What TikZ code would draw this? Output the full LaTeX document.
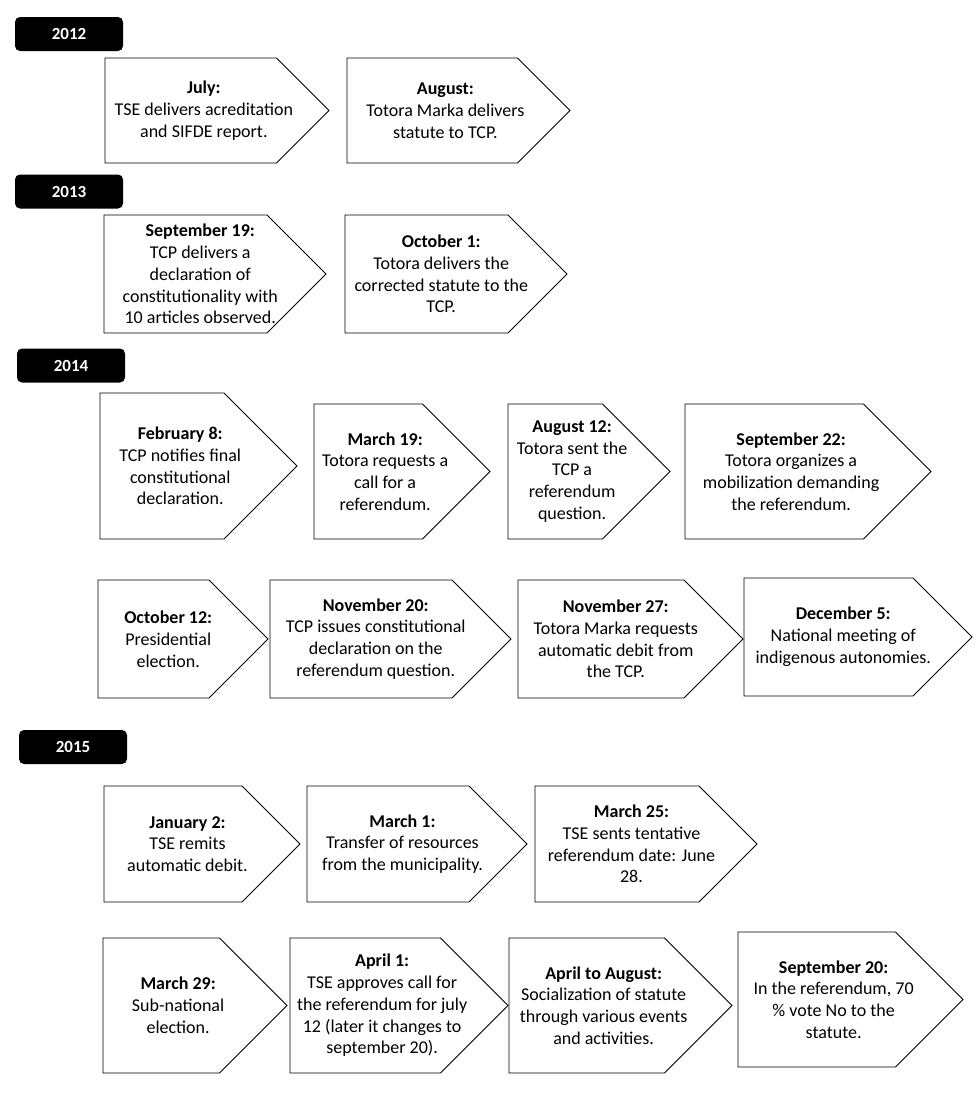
\documentclass[tikz,border=0pt]{standalone}
\usepackage{fontspec}
\setmainfont{Carlito}
\begin{document}
\begin{tikzpicture}[x=1pt,y=-1pt,
  evtline/.style={draw=black,line width=0.9pt,fill=white,line join=miter},
  evttext/.style={align=center,inner sep=0pt,font=\fontsize{18}{21.8}\selectfont},
  yearbox/.style={fill=black,rounded corners=5pt,text=white,minimum width=108pt,minimum height=34pt,inner sep=0pt,font=\fontsize{17}{20}\selectfont\bfseries}]
\useasboundingbox[fill=white] (0,0) rectangle (980,1093);
\newcommand\evt[6]{%
  \pgfmathsetmacro\evtip{(#5-#3)/2}%
  \draw[evtline] (#2,#3) -- ({#4-\evtip},#3) -- (#4,{(#3+#5)/2}) -- ({#4-\evtip},#5) -- (#2,#5) -- cycle;
  \node[evttext] (#1) at ({(#2+#4)/2-\evtip/4},{(#3+#5)/2}) {#6};}
% years
\node[yearbox] (y2012) at (69,34) {2012};
\node[yearbox] (y2013) at (69,191.5) {2013};
\node[yearbox] (y2014) at (71,365.5) {2014};
\node[yearbox] (y2015) at (73,747) {2015};
% 2012
\evt{jul12}{105}{58}{329}{163}{\textbf{July:}\\TSE delivers acreditation\\and SIFDE report.}
\evt{aug12}{347}{58}{570}{163}{\textbf{August:}\\Totora Marka delivers\\statute to TCP.}
% 2013
\evt{sep13}{104}{215}{326}{333}{\textbf{September 19:}\\TCP delivers a\\declaration of\\constitutionality with\\10 articles observed.}
\evt{oct13}{345}{215}{567}{333}{\textbf{October 1:}\\Totora delivers the\\corrected statute to the\\TCP.}
% 2014 a
\evt{feb14}{100}{393}{297}{539}{\textbf{February 8:}\\TCP notifies final\\constitutional\\declaration.}
\evt{mar14}{314}{404}{490}{539}{\textbf{March 19:}\\Totora requests a\\call for a\\referendum.}
\evt{aug14}{508}{404}{670}{539}{\textbf{August 12:}\\Totora sent the\\TCP a\\referendum\\question.}
\evt{sep14}{685}{404}{931}{539}{\textbf{September 22:}\\Totora organizes a\\mobilization demanding\\the referendum.}
% 2014 b
\evt{oct14}{98}{580}{268}{698}{\textbf{October 12:}\\Presidential\\election.}
\evt{nov14}{270}{580}{511}{698}{\textbf{November 20:}\\TCP issues constitutional\\declaration on the\\referendum question.}
\evt{novb14}{518}{580}{743}{698}{\textbf{November 27:}\\Totora Marka requests\\automatic debit from\\the TCP.}
\evt{dec14}{744}{578}{972}{696}{\textbf{December 5:}\\National meeting of\\indigenous autonomies.}
% 2015 a
\evt{jan15}{104}{786}{300}{902}{\textbf{January 2:}\\TSE remits\\automatic debit.}
\evt{mar15}{307}{786}{527}{902}{\textbf{March 1:}\\Transfer of resources\\from the municipality.}
\evt{marb15}{535}{786}{757}{902}{\textbf{March 25:}\\TSE sents tentative\\referendum date: June\\28.}
% 2015 b
\evt{marc15}{103}{938}{287}{1073}{\textbf{March 29:}\\Sub-national\\election.}
\evt{apr15}{290}{938}{508}{1073}{\textbf{April 1:}\\TSE approves call for\\the referendum for july\\12 (later it changes to\\september 20).}
\evt{aug15}{509}{938}{732}{1073}{\textbf{April to August:}\\Socialization of statute\\through various events\\and activities.}
\evt{sep15}{738}{932}{963}{1067}{\textbf{September 20:}\\In the referendum, 70\\\% vote No to the\\statute.}
\end{tikzpicture}
\end{document}
